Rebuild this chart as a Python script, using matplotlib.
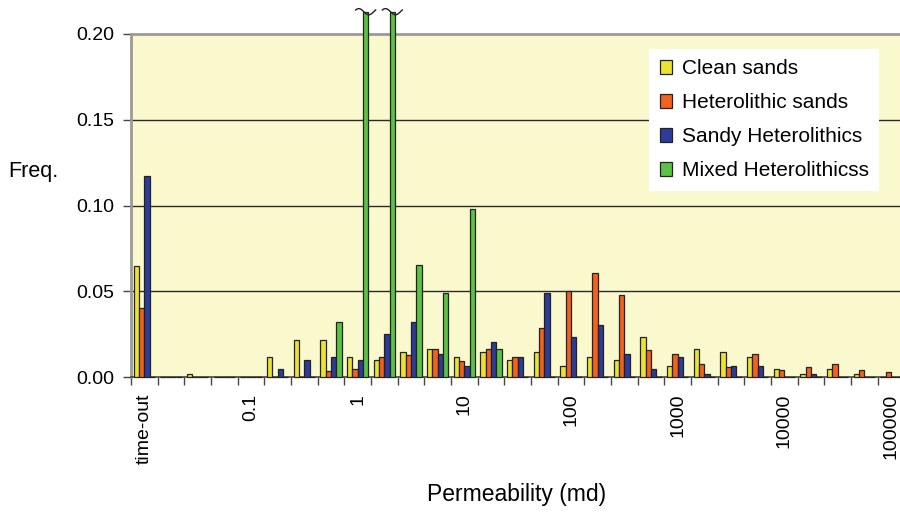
import numpy as np
import matplotlib.pyplot as plt
from matplotlib.patches import Patch

plt.rcParams["font.family"] = ["Liberation Sans", "DejaVu Sans"]

# 29 permeability classes, quarter-decade bins; only every 4th is labelled
tick_labels = ["time-out", "0.1", "1", "10", "100", "1000", "10000", "100000"]
label_every = 4

series = ["Clean sands", "Heterolithic sands", "Sandy Heterolithics", "Mixed Heterolithicss"]
colors = ["#ECE232", "#F0621E", "#2C3C98", "#5CC244"]

clean = [0.065, 0.0, 0.002, 0.0, 0.0, 0.0115, 0.0216, 0.0216, 0.0115, 0.0097,
         0.0146, 0.0163, 0.0115, 0.0146, 0.0097, 0.0146, 0.0066, 0.0115, 0.0097,
         0.0235, 0.0066, 0.0165, 0.0146, 0.0117, 0.0049, 0.0017, 0.0049, 0.0017, 0.0]
hetero_sands = [0.040, 0.0, 0.0, 0.0, 0.0, 0.0, 0.0, 0.0037, 0.0049, 0.0117,
                0.0128, 0.0163, 0.0095, 0.0163, 0.0115, 0.0284, 0.050, 0.0606, 0.048,
                0.0155, 0.0136, 0.0076, 0.0058, 0.0136, 0.0039, 0.0058, 0.0076, 0.0039, 0.0027]
sandy_het = [0.117, 0.0, 0.0, 0.0, 0.0, 0.0049, 0.0097, 0.0115, 0.0097, 0.0253,
             0.0323, 0.0136, 0.0066, 0.0204, 0.0115, 0.0488, 0.0235, 0.0302, 0.0136,
             0.0049, 0.0117, 0.0017, 0.0066, 0.0066, 0.0, 0.0017, 0.0, 0.0, 0.0]
# two classes run off the top of the scale (broken bars)
mixed_het = [0.0, 0.0, 0.0, 0.0, 0.0, 0.0, 0.0, 0.0323, 0.30, 0.28,
             0.0655, 0.0488, 0.098, 0.0163, 0.0, 0.0, 0.0, 0.0, 0.0,
             0.0, 0.0, 0.0, 0.0, 0.0, 0.0, 0.0, 0.0, 0.0, 0.0]

ymax = 0.20
cap = 0.213  # where off-scale bars are cut

fig = plt.figure(figsize=(9, 5.14), dpi=100)
ax = fig.add_axes([131 / 900, 137 / 514, 773.4 / 900, 343 / 514])
ax.set_facecolor("#FAF8CD")

n = len(clean)
x = np.arange(n)
width = 0.2
for i, (vals, col) in enumerate(zip([clean, hetero_sands, sandy_het, mixed_het], colors)):
    vals = np.asarray(vals)
    shown = np.minimum(vals, cap)
    ax.bar(x + (i - 1.5) * width, shown, width, color=col,
           edgecolor="#222222", linewidth=0.9, clip_on=False, zorder=3)
    # break marks on top of the bars that leave the scale
    for j in np.where(vals > ymax)[0]:
        cx = x[j] + (i - 1.5) * width
        t = np.linspace(0, 1, 40)
        ax.plot(cx + (t - 0.5) * 0.75, cap + 0.0018 * np.sin(2 * np.pi * t + 0.6),
                color="#222222", lw=1.0, clip_on=False, zorder=4)

ax.set_xlim(-0.5, n - 0.5)
ax.set_ylim(0, ymax)

# gridlines
for yv in [0.05, 0.10, 0.15]:
    ax.axhline(yv, color="#2a2a2a", lw=1.0, zorder=1)

ax.set_yticks(np.arange(0, 0.201, 0.05))
ax.set_yticklabels([f"{v:.2f}" for v in np.arange(0, 0.201, 0.05)])
ax.tick_params(axis="y", length=6, width=1, color="#444444", pad=6, labelsize=14)

ax.set_xticks(x[::label_every])
ax.set_xticklabels(tick_labels, rotation=90, va="top", ha="center")
ax.set_xticks(np.arange(-0.5, n + 0.5, 1), minor=True)
ax.tick_params(axis="x", which="major", length=0, pad=12, labelsize=14)
ax.tick_params(axis="x", which="minor", length=6, width=1, color="#444444")

ax.spines["right"].set_visible(False)
ax.spines["top"].set_color("#9a9a9a")
ax.spines["top"].set_linewidth(2)
ax.spines["left"].set_color("#9a9a9a")
ax.spines["left"].set_linewidth(2)
ax.spines["bottom"].set_color("#444444")
ax.spines["bottom"].set_linewidth(1.2)

fig.text(8 / 900, 1 - 172 / 514, "Freq.", fontsize=15.5, va="center", ha="left")
fig.text(517 / 900, 1 - 494 / 514, "Permeability (md)", fontsize=16.5, va="center", ha="center")

handles = [Patch(facecolor=c, edgecolor="#222222", linewidth=0.9) for c in colors]
leg = fig.legend(handles, series, loc="upper right", bbox_to_anchor=(879 / 900, 1 - 49 / 514),
                 frameon=True, fancybox=False, facecolor="white", edgecolor="none",
                 fontsize=15, handlelength=0.6, handleheight=0.6, handletextpad=0.45,
                 labelspacing=0.72, borderpad=0.5, borderaxespad=0)
leg.get_frame().set_alpha(1)

fig.savefig("out.png", dpi=100)
